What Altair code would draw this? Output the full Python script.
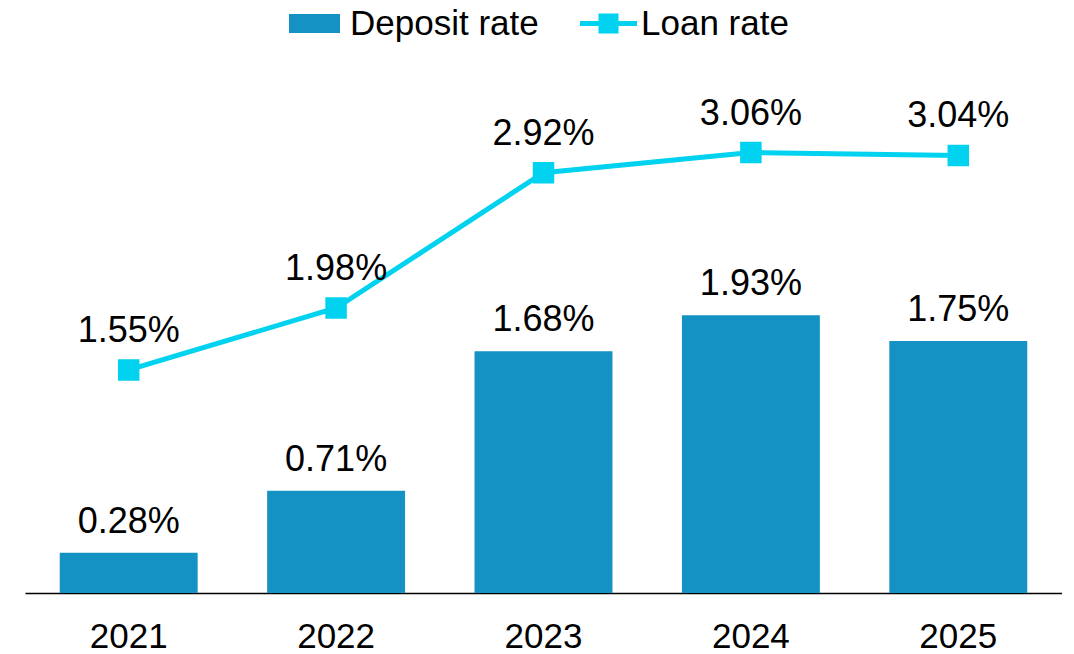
import altair as alt
import pandas as pd

years = ["2021", "2022", "2023", "2024", "2025"]
deposit_rate = [0.28, 0.71, 1.68, 1.93, 1.75]
loan_rate = [1.55, 1.98, 2.92, 3.06, 3.04]

BAR_COLOR = "#1592c4"
LINE_COLOR = "#00d2ef"
FONT = "Liberation Sans"

df = pd.DataFrame({
    "year": years,
    "deposit": deposit_rate,
    "loan": loan_rate,
    "dep_name": ["Deposit rate"] * len(years),
    "loan_name": ["Loan rate"] * len(years),
})

x = alt.X("year:N", sort=years, title=None,
          scale=alt.Scale(paddingInner=0.335, paddingOuter=0.1675),
          axis=alt.Axis(labelAngle=0, ticks=False, domainColor="#000000",
                        domainWidth=1.5, labelFontSize=35, labelColor="#000000",
                        labelFont=FONT, labelPadding=26, grid=False))
yscale = alt.Scale(domain=[0, 3.8], nice=False, zero=True)

base = alt.Chart(df)

bars = base.mark_bar().encode(
    x=x,
    y=alt.Y("deposit:Q", scale=yscale, axis=None),
    color=alt.Color("dep_name:N",
                    scale=alt.Scale(domain=["Deposit rate"], range=[BAR_COLOR]),
                    legend=alt.Legend(title=None, orient="none", legendX=264, legendY=-48,
                                      direction="horizontal", padding=0,
                                      symbolType="M-1,-0.3725H1V0.3725H-1Z",
                                      symbolSize=2601, symbolStrokeWidth=0,
                                      labelFontSize=35, labelFont=FONT, labelLimit=0,
                                      labelColor="#000000", labelOffset=10)),
)

bar_text = base.transform_calculate(
    lbl="format(datum.deposit, '.2f') + '%'"
).mark_text(dy=-20, baseline="alphabetic", align="center", fontSize=36,
            font=FONT, color="#000000").encode(
    x=alt.X("year:N", sort=years),
    y=alt.Y("deposit:Q", scale=yscale),
    text="lbl:N",
)

line = base.mark_line(strokeWidth=5, point=alt.OverlayMarkDef(
    shape="square", size=380, filled=True, color=LINE_COLOR, opacity=1)).encode(
    x=alt.X("year:N", sort=years),
    y=alt.Y("loan:Q", scale=yscale),
    stroke=alt.Stroke("loan_name:N",
                      scale=alt.Scale(domain=["Loan rate"], range=[LINE_COLOR]),
                      legend=alt.Legend(title=None, orient="none", legendX=555, legendY=-51,
                                        direction="horizontal", padding=0,
                                        symbolType="M-1,-0.0877H-0.351V-0.351H0.351V-0.0877H1V0.0877H0.351V0.351H-0.351V0.0877H-1Z",
                                        symbolSize=3249, symbolStrokeWidth=0,
                                        symbolFillColor=LINE_COLOR,
                                        labelFontSize=35, labelFont=FONT, labelLimit=0,
                                        labelColor="#000000", labelOffset=4)),
)

line_text = base.transform_calculate(
    lbl="format(datum.loan, '.2f') + '%'"
).mark_text(dy=-28, baseline="alphabetic", align="center", fontSize=36,
            font=FONT, color="#000000").encode(
    x=alt.X("year:N", sort=years),
    y=alt.Y("loan:Q", scale=yscale),
    text="lbl:N",
)

chart = alt.layer(bars, bar_text, line, line_text).resolve_scale(
    color="independent", stroke="independent"
).properties(
    width=1037, height=547,
    autosize=alt.AutoSizeParams(type="none"),
    padding={"left": 17, "top": 38, "right": 0, "bottom": 60},
).configure(background="#ffffff").configure_view(stroke=None, strokeWidth=0)

chart.save("out.html", embed_options={"renderer": "svg", "actions": False})
